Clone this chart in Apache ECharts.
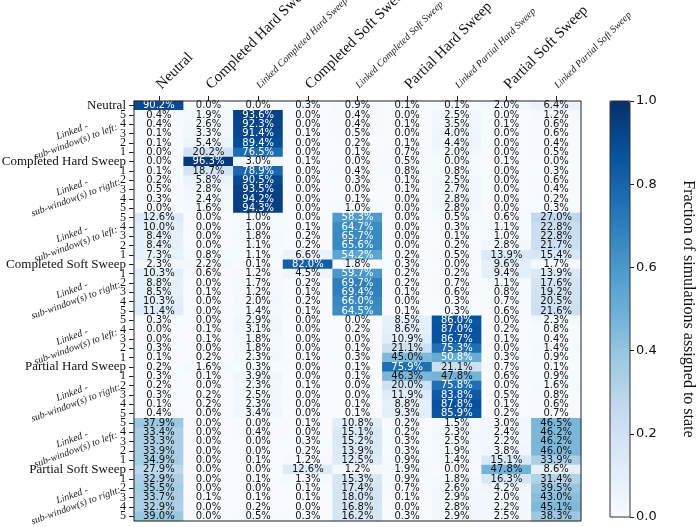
<!DOCTYPE html>
<html>
<head>
<meta charset="utf-8">
<script src="https://cdn.jsdelivr.net/npm/echarts@6/dist/echarts.min.js"></script>
<style>html,body{margin:0;padding:0;background:#fff;}#c{width:698px;height:527px;}</style>
</head>
<body>
<div id="c"></div>
<script>
// ---- DATA ----
const columns = ['Neutral','Completed Hard Sweep','Linked Completed Hard Sweep','Completed Soft Sweep','Linked Completed Soft Sweep','Partial Hard Sweep','Linked Partial Hard Sweep','Partial Soft Sweep','Linked Partial Soft Sweep'];
const sweepNames = ['Completed Hard Sweep','Completed Soft Sweep','Partial Hard Sweep','Partial Soft Sweep'];
const leftLabels = ['5','4','3','2','1'];
const rightLabels = ['1','2','3','4','5'];
const annotLeft = 'Linked -\nsub-window(s) to left:';
const annotRight = 'Linked -\nsub-window(s) to right:';

// values in percent, columns in the order of `columns`
const neutralRow = [[90.2,0.0,0.0,0.3,0.9,0.1,0.1,2.0,6.4]];
const chsRows = [
  [0.4,1.9,93.6,0.0,0.4,0.0,2.5,0.0,1.2],
  [0.4,2.6,92.3,0.0,0.4,0.1,3.5,0.1,0.6],
  [0.1,3.3,91.4,0.1,0.5,0.0,4.0,0.0,0.6],
  [0.1,5.4,89.4,0.0,0.2,0.1,4.4,0.0,0.4],
  [0.0,20.2,76.5,0.0,0.1,0.7,2.0,0.0,0.5],
  [0.0,96.3,3.0,0.1,0.0,0.5,0.0,0.1,0.0],
  [0.1,18.7,78.9,0.0,0.4,0.8,0.8,0.0,0.3],
  [0.2,5.8,90.5,0.0,0.3,0.1,2.5,0.0,0.6],
  [0.5,2.8,93.5,0.0,0.0,0.1,2.7,0.0,0.4],
  [0.3,2.4,94.2,0.0,0.1,0.0,2.8,0.0,0.2],
  [0.0,1.6,94.3,0.0,1.0,0.0,2.8,0.0,0.3]
];
const cssRows = [
  [12.6,0.0,1.0,0.0,58.3,0.0,0.5,0.6,27.0],
  [10.0,0.0,1.0,0.1,64.7,0.0,0.3,1.1,22.8],
  [8.4,0.0,1.8,0.2,65.7,0.0,0.1,1.0,22.8],
  [8.4,0.0,1.1,0.2,65.6,0.0,0.2,2.8,21.7],
  [7.3,0.8,1.1,6.6,54.2,0.2,0.5,13.9,15.4],
  [2.3,2.2,0.1,82.0,1.8,0.3,0.0,9.6,1.7],
  [10.3,0.6,1.2,4.5,59.7,0.2,0.2,9.4,13.9],
  [8.8,0.0,1.7,0.2,69.7,0.2,0.7,1.1,17.6],
  [8.5,0.1,1.2,0.1,69.4,0.1,0.6,0.8,19.2],
  [10.3,0.0,2.0,0.2,66.0,0.0,0.3,0.7,20.5],
  [11.4,0.0,1.4,0.1,64.5,0.1,0.3,0.6,21.6]
];
const phsRows = [
  [0.3,0.0,2.9,0.0,0.0,8.5,86.0,0.0,2.3],
  [0.0,0.1,3.1,0.0,0.2,8.6,87.0,0.2,0.8],
  [0.0,0.1,1.8,0.0,0.0,10.9,86.7,0.1,0.4],
  [0.3,0.0,1.8,0.0,0.1,21.1,75.3,0.0,1.4],
  [0.1,0.2,2.3,0.1,0.3,45.0,50.8,0.3,0.9],
  [0.2,1.6,0.3,0.0,0.1,75.9,21.1,0.7,0.1],
  [0.3,0.1,3.9,0.0,0.1,46.3,47.8,0.6,0.9],
  [0.2,0.0,2.3,0.1,0.0,20.0,75.8,0.0,1.6],
  [0.3,0.2,2.5,0.0,0.0,11.9,83.8,0.5,0.8],
  [0.1,0.2,2.3,0.0,0.1,8.8,87.8,0.1,0.6],
  [0.4,0.0,3.4,0.0,0.1,9.3,85.9,0.2,0.7]
];
const pssRows = [
  [37.9,0.0,0.0,0.1,10.8,0.2,1.5,3.0,46.5],
  [33.4,0.0,0.4,0.0,15.1,0.2,2.3,2.4,46.2],
  [33.3,0.0,0.0,0.3,15.2,0.3,2.5,2.2,46.2],
  [33.9,0.0,0.0,0.2,13.9,0.3,1.9,3.8,46.0],
  [34.9,0.0,0.1,1.2,12.5,0.9,1.4,15.1,33.9],
  [27.9,0.0,0.0,12.6,1.2,1.9,0.0,47.8,8.6],
  [32.9,0.0,0.1,1.3,15.3,0.9,1.8,16.3,31.4],
  [35.5,0.0,0.0,0.1,17.4,0.7,2.6,4.2,39.5],
  [33.7,0.1,0.1,0.1,18.0,0.1,2.9,2.0,43.0],
  [32.9,0.0,0.2,0.0,16.8,0.0,2.8,2.2,45.1],
  [39.0,0.0,0.5,0.3,16.2,0.3,2.9,2.5,38.3]
];
const colorbarTicks = [0.0,0.2,0.4,0.6,0.8,1.0];
const colorbarTitle = 'Fraction of simulations assigned to state';

// ---- BUILD ----
const rowLabels = ['Neutral'];
sweepNames.forEach(n => { rowLabels.push(...leftLabels, n, ...rightLabels); });
const allRows = [].concat(neutralRow, chsRows, cssRows, phsRows, pssRows);

const blues = ['#f7fbff','#deebf7','#c6dbef','#9ecae1','#6baed6','#4292c6','#2171b5','#08519c','#08306b'];

const data = [];
allRows.forEach((row, r) => {
  row.forEach((v, c) => {
    data.push({ value: [c, r, v], label: { color: v > 50 ? '#ffffff' : '#111111' } });
  });
});

const W = 698, H = 527;
const G = { left: 134, top: 101, right: 117, bottom: 6 };
const rowH = (H - G.top - G.bottom) / rowLabels.length;
const serif = '"Liberation Serif", "DejaVu Serif", serif';

const annotations = [];
sweepNames.forEach((n, i) => {
  const centerIdx = rowLabels.indexOf(n);
  [[centerIdx - 3, annotLeft], [centerIdx + 3, annotRight]].forEach(([idx, txt]) => {
    annotations.push({
      type: 'text',
      x: 74, y: G.top + (idx + 0.5) * rowH + 3,
      rotation: 20 * Math.PI / 180,
      style: {
        text: txt, fontFamily: serif, fontStyle: 'italic', fontSize: 10,
        fill: '#222', align: 'center', verticalAlign: 'middle', lineHeight: 11
      }
    });
  });
});

const chart = echarts.init(document.getElementById('c'), null, { renderer: 'canvas' });
chart.setOption({
  animation: false,
  backgroundColor: '#ffffff',
  grid: [
    { left: G.left, top: G.top, right: G.right, bottom: G.bottom, containLabel: false, outerBoundsMode: 'none', show: true, borderColor: '#222', borderWidth: 1, z: 10, backgroundColor: 'transparent' },
    { left: 610, top: G.top, width: 20, height: 416, containLabel: false, outerBoundsMode: 'none', show: true, borderColor: '#333', borderWidth: 1, z: 10, backgroundColor: 'transparent' }
  ],
  xAxis: [
    {
      type: 'category', gridIndex: 0, data: columns, position: 'top',
      axisLine: { show: true, lineStyle: { color: '#222' } },
      axisTick: { show: true, alignWithLabel: true, inside: false, length: 5, lineStyle: { color: '#222' } },
      splitLine: { show: false },
      axisLabel: {
        interval: 0, rotate: -45, margin: 14,
        formatter: v => v.indexOf('Linked') === 0 ? '{s|' + v + '}' : '{b|' + v + '}',
        rich: {
          b: { fontFamily: serif, fontSize: 15, color: '#111' },
          s: { fontFamily: serif, fontSize: 10, fontStyle: 'italic', color: '#222' }
        }
      }
    },
    { type: 'category', gridIndex: 1, data: [''], show: false }
  ],
  yAxis: [
    {
      type: 'category', gridIndex: 0, data: rowLabels, inverse: true,
      axisLine: { show: true, lineStyle: { color: '#222' } },
      axisTick: { show: true, alignWithLabel: true, length: 5, lineStyle: { color: '#222' } },
      splitLine: { show: false },
      axisLabel: {
        interval: 0, margin: 8,
        formatter: v => v.length > 1 ? '{b|' + v + '}' : '{n|' + v + '}',
        rich: {
          b: { fontFamily: serif, fontSize: 13, color: '#111' },
          n: { fontFamily: serif, fontSize: 12, color: '#111' }
        }
      }
    },
    {
      type: 'value', gridIndex: 1, position: 'right', min: colorbarTicks[0], max: colorbarTicks[colorbarTicks.length - 1], interval: 0.2,
      splitLine: { show: false },
      axisLine: { show: false },
      axisTick: { show: true, length: 4, lineStyle: { color: '#222' } },
      axisLabel: { margin: 6, fontFamily: '"DejaVu Sans", sans-serif', fontSize: 13, color: '#111', formatter: v => v.toFixed(1) },
      name: colorbarTitle, nameLocation: 'middle', nameRotate: -90, nameGap: 50,
      nameTextStyle: { fontFamily: serif, fontSize: 16, color: '#111' }
    }
  ],
  visualMap: {
    type: 'continuous', min: 0, max: 100, dimension: 2, seriesIndex: 0,
    calculable: false, show: true, orient: 'vertical',
    left: 610, top: G.top, itemWidth: 20, itemHeight: 416, padding: 0,
    text: null, inRange: { color: blues }, hoverLink: false
  },
  series: [{
    type: 'heatmap', xAxisIndex: 0, yAxisIndex: 0, data: data,
    label: {
      show: true, fontFamily: '"DejaVu Sans", sans-serif', fontSize: 10,
      formatter: p => p.value[2].toFixed(1) + '%'
    },
    itemStyle: { borderWidth: 0 },
    emphasis: { disabled: true }
  }],
  graphic: annotations
});
</script>
</body>
</html>
